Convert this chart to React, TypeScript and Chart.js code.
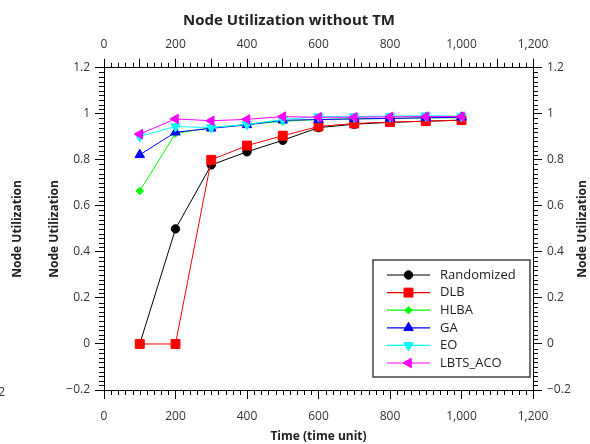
import React, { useEffect, useRef } from "react";
import { Chart, registerables } from "chart.js";
import { drawPoint } from "chart.js/helpers";

Chart.register(...registerables);

const chartTitle = "Node Utilization without TM";
const xTitle = "Time (time unit)";
const yTitle = "Node Utilization";

const timeUnits = [100, 200, 300, 400, 500, 600, 700, 800, 900, 1000];
const randomized = [0, 0.5, 0.778, 0.835, 0.885, 0.94, 0.955, 0.963, 0.968, 0.972];
const dlb = [0, 0, 0.8, 0.862, 0.905, 0.945, 0.958, 0.964, 0.968, 0.973];
const hlba = [0.665, 0.915, 0.94, 0.954, 0.967, 0.976, 0.978, 0.98, 0.982, 0.983];
const ga = [0.822, 0.92, 0.937, 0.952, 0.972, 0.975, 0.978, 0.98, 0.983, 0.985];
const eo = [0.902, 0.945, 0.94, 0.954, 0.975, 0.988, 0.988, 0.99, 0.992, 0.99];
const lbtsAco = [0.912, 0.978, 0.97, 0.976, 0.988, 0.985, 0.985, 0.987, 0.988, 0.988];

const seriesNames = ["Randomized", "DLB", "HLBA", "GA", "EO", "LBTS_ACO"];
const seriesValues = [randomized, dlb, hlba, ga, eo, lbtsAco];
const seriesColors = ["#000000", "#ff0000", "#00ff00", "#0000ff", "#00ffff", "#ff00ff"];
const seriesPointStyles = ["circle", "rect", "rectRot", "triangle", "triangle", "triangle"];
const seriesRotations = [0, 0, 0, 0, 180, -90];
const seriesRadii = [4.2, 6.3, 3.8, 5.5, 5.5, 5.5];

const xMin = 0, xMax = 1200, xStep = 200, xMinorStep = 20;
const yMin = -0.2, yMax = 1.2, yStep = 0.2, yMinorStep = 0.02;

const FONT = "'Open Sans', 'Noto Sans', sans-serif";

const fmtY = (v: number) => {
  const r = Math.round(v * 100) / 100;
  return String(r).replace("-", "\u2212");
};

const minorTicksPlugin = {
  id: "minorTicks",
  afterDraw(chart: any) {
    const { ctx, chartArea: ca, scales } = chart;
    ctx.save();
    ctx.strokeStyle = "#000";
    ctx.lineWidth = 1;
    ctx.beginPath();
    const xs = scales.x;
    const nX = Math.round((xMax - xMin) / xMinorStep);
    for (let k = 0; k <= nX; k++) {
      const v = xMin + k * xMinorStep;
      const px = Math.round(xs.getPixelForValue(v)) + 0.5;
      if (k % 10 !== 0) {
        ctx.moveTo(px, ca.bottom);
        ctx.lineTo(px, ca.bottom + 5);
      }
      if (k % 5 !== 0) {
        ctx.moveTo(px, ca.top);
        ctx.lineTo(px, ca.top - 5);
      }
    }
    const ys = scales.y;
    const nY = Math.round((yMax - yMin) / yMinorStep);
    for (let k = 0; k <= nY; k++) {
      if (k % 10 === 0) continue;
      const v = yMin + k * yMinorStep;
      const py = Math.round(ys.getPixelForValue(v)) + 0.5;
      ctx.moveTo(ca.left, py);
      ctx.lineTo(ca.left - 5, py);
      ctx.moveTo(ca.right, py);
      ctx.lineTo(ca.right + 5, py);
    }
    ctx.stroke();

    // chart title (slightly left of canvas centre, as in the reference)
    ctx.fillStyle = "#222";
    ctx.font = `bold 15px ${FONT}`;
    ctx.textAlign = "center";
    ctx.textBaseline = "middle";
    ctx.fillText(chartTitle, chart.width / 2 - 6, 21);

    // extra rotated axis titles
    ctx.font = `bold 12px ${FONT}`;
    const cy = (ca.top + ca.bottom) / 2;
    [18, 583].forEach((x) => {
      ctx.save();
      ctx.translate(x, cy);
      ctx.rotate(-Math.PI / 2);
      ctx.fillText(yTitle, 0, 0);
      ctx.restore();
    });
    // clipped stray label at the far left
    ctx.fillStyle = "#333";
    ctx.font = `12px ${FONT}`;
    ctx.textAlign = "right";
    ctx.fillText(fmtY(yMin), 5, ys.getPixelForValue(yMin) + 3);
    ctx.restore();
  },
};

const boxLegendPlugin = {
  id: "boxLegend",
  afterDatasetsDraw(chart: any) {
    const { ctx, chartArea: ca } = chart;
    const w = 157, h = 117;
    const x0 = ca.right - 3 - w;
    const y0 = ca.bottom - 13 - h;
    ctx.save();
    ctx.fillStyle = "#fff";
    ctx.fillRect(x0, y0, w, h);
    ctx.strokeStyle = "#444";
    ctx.lineWidth = 1.5;
    ctx.strokeRect(x0, y0, w, h);
    chart.data.datasets.forEach((ds: any, i: number) => {
      const y = y0 + 15 + i * 17.6;
      ctx.strokeStyle = ds.borderColor;
      ctx.lineWidth = 1.2;
      ctx.beginPath();
      ctx.moveTo(x0 + 14, y);
      ctx.lineTo(x0 + 57, y);
      ctx.stroke();
      ctx.fillStyle = ds.backgroundColor;
      ctx.strokeStyle = ds.borderColor;
      ctx.lineWidth = 1;
      drawPoint(
        ctx,
        {
          pointStyle: ds.pointStyle,
          rotation: ds.pointRotation || 0,
          radius: ds.pointRadius,
          borderWidth: 1,
        } as any,
        x0 + 35.5,
        y
      );
      ctx.fillStyle = "#222";
      ctx.font = `13px ${FONT}`;
      ctx.textAlign = "left";
      ctx.textBaseline = "middle";
      ctx.fillText(ds.label, x0 + 67, y);
    });
    ctx.restore();
  },
};

export default function App() {
  const ref = useRef<HTMLCanvasElement | null>(null);
  useEffect(() => {
    document.body.style.margin = "0";
    if (!ref.current) return;
    const datasets = seriesNames.map((name, i) => ({
      label: name,
      data: timeUnits.map((t, j) => ({ x: t, y: seriesValues[i][j] })),
      borderColor: seriesColors[i],
      backgroundColor: seriesColors[i],
      pointBackgroundColor: seriesColors[i],
      pointBorderColor: seriesColors[i],
      borderWidth: 1,
      pointBorderWidth: 1,
      pointStyle: seriesPointStyles[i],
      pointRotation: seriesRotations[i],
      pointRadius: seriesRadii[i],
      tension: 0,
      order: seriesNames.length - i,
      clip: false as any,
    }));
    const tickFont = { family: FONT, size: 12 };
    const titleFont = { family: FONT, size: 12, weight: "bold" as any };
    const chart = new Chart(ref.current, {
      type: "line",
      data: { datasets },
      plugins: [minorTicksPlugin, boxLegendPlugin],
      options: {
        animation: false,
        responsive: false,
        devicePixelRatio: 1,
        layout: { padding: { top: 30 } },
        plugins: {
          legend: { display: false },
          tooltip: { enabled: false },
          title: { display: false },
        },
        scales: {
          x: {
            type: "linear",
            position: "bottom",
            min: xMin,
            max: xMax,
            ticks: {
              stepSize: xStep,
              color: "#333",
              font: tickFont,
              padding: 10,
              maxRotation: 0,
              autoSkip: false,
              callback: (v: any) => Number(v).toLocaleString("en-US"),
            },
            grid: { drawOnChartArea: false, tickLength: 9, color: "#000" },
            border: { color: "#000", width: 1 },
            title: {
              display: true,
              text: xTitle,
              color: "#222",
              font: titleFont,
              padding: { top: 0, bottom: 0 },
            },
            afterFit: (s: any) => {
              s.height = 54;
            },
          },
          x2: {
            type: "linear",
            position: "top",
            min: xMin,
            max: xMax,
            ticks: {
              stepSize: 100,
              color: "#333",
              font: tickFont,
              padding: 7,
              maxRotation: 0,
              autoSkip: false,
              callback: (v: any) =>
                Number(v) % xStep === 0 ? Number(v).toLocaleString("en-US") : "",
            },
            grid: { drawOnChartArea: false, tickLength: 9, color: "#000" },
            border: { color: "#000", width: 1 },
            afterFit: (s: any) => {
              s.height = 37.8;
            },
          },
          y: {
            type: "linear",
            position: "left",
            min: yMin,
            max: yMax,
            ticks: {
              stepSize: yStep,
              color: "#333",
              font: tickFont,
              padding: 5,
              callback: (v: any) => fmtY(Number(v)),
            },
            grid: { drawOnChartArea: false, tickLength: 9, color: "#000" },
            border: { color: "#000", width: 1 },
            title: {
              display: true,
              text: yTitle,
              color: "#222",
              font: titleFont,
              padding: { top: 47, bottom: 0 },
            },
            afterFit: (s: any) => {
              s.width = 104;
            },
          },
          y2: {
            type: "linear",
            position: "right",
            min: yMin,
            max: yMax,
            ticks: {
              stepSize: yStep,
              color: "#333",
              font: tickFont,
              padding: 5,
              callback: (v: any) => fmtY(Number(v)),
            },
            grid: { drawOnChartArea: false, tickLength: 9, color: "#000" },
            border: { color: "#000", width: 1 },
            afterFit: (s: any) => {
              s.width = 57;
            },
          },
        },
      } as any,
    });
    return () => chart.destroy();
  }, []);
  return (
    <div style={{ position: "fixed", left: 0, top: 0, width: 590, height: 444 }}>
      <canvas ref={ref} width={590} height={444} />
    </div>
  );
}
